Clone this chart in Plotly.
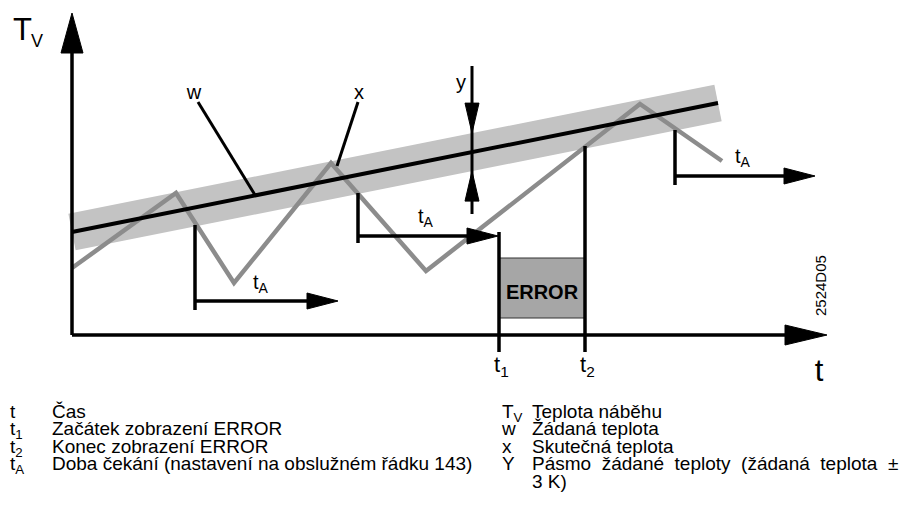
import plotly.graph_objects as go

# diagram units: t to the right, T upwards, origin where the two axes meet
t_axis_end = 755
T_axis_end = 322

# setpoint w and its band y (w +- 3 K)
w_t = [0, 646]
w_T = [103, 232]
band_half = 19

# actual temperature x
x_t = [0, 104, 162, 259, 354, 568, 650]
x_T = [67, 142, 52, 172, 64, 231, 174]

# waiting times t_A
wait_t = [123, 286, 603]
wait_top = [110, 142, 205]
wait_bottom = [25, 92, 150]
wait_arrow_T = [34, 99, 159]
wait_len = [143, 140, 140]

# ERROR display between t1 and t2
t1 = 427
t2 = 513
t1_top = 103
t2_top = 189
error_T = [17, 77]
tick_bottom = -17

# leader lines for the w / x labels, marker for the band y
w_lead_t = [126, 183]
w_lead_T = [233, 140]
x_lead_t = [286, 265]
x_lead_T = [233, 169]
y_t = 400
y_line_T = [121, 269]

NB = "\u00a0"
legend_left_sym = ["t", "t<sub>1</sub>", "t<sub>2</sub>", "t<sub>A</sub>"]
legend_left_txt = ["Čas", "Začátek zobrazení ERROR", "Konec zobrazení ERROR",
                   "Doba čekání (nastavení na obslužném řádku 143)"]
legend_right_sym = ["T<sub>V</sub>", "w", "x", "Y", ""]
legend_right_txt = ["Teplota náběhu", "Žádaná teplota", "Skutečná teplota",
                    "Pásmo žádané teploty (žádaná teplota ±".replace(" ", " " + NB),
                    "3 K)"]

FONT = "Liberation Sans, Arial, sans-serif"
BLACK = "#000000"
GREY = "#8c8c8c"
BAND = "#c3c3c3"

fig = go.Figure()


def line(xs, ys, color=BLACK, width=3.5):
    fig.add_trace(go.Scatter(x=xs, y=ys, mode="lines",
                             line=dict(color=color, width=width),
                             showlegend=False, hoverinfo="skip"))


def head(tip_x, tip_y, dx, dy, length, half):
    bx, by = tip_x - dx * length, tip_y - dy * length
    px, py = -dy * half, dx * half
    fig.add_trace(go.Scatter(x=[tip_x, bx + px, bx - px, tip_x],
                             y=[tip_y, by + py, by - py, tip_y],
                             mode="lines", fill="toself", fillcolor=BLACK,
                             line=dict(color=BLACK, width=1),
                             showlegend=False, hoverinfo="skip"))


def label(x, base, text, size, pos="middle center", bold=False):
    # base = baseline of the text in diagram units
    fig.add_trace(go.Scatter(x=[x], y=[base + 0.15 * size], mode="text",
                             text=[text], textposition=pos,
                             textfont=dict(family=FONT, size=size, color=BLACK,
                                           weight="bold" if bold else "normal"),
                             showlegend=False, hoverinfo="skip"))


# band around the setpoint
dx, dy = w_t[1] - w_t[0], w_T[1] - w_T[0]
L = (dx * dx + dy * dy) ** 0.5
d = band_half * dx / L
nx, ny = -dy / L * d, dx / L * d
band_x = [w_t[0] + nx, w_t[1] + nx, w_t[1] - nx, w_t[0] - nx, w_t[0] + nx]
band_y = [w_T[0] + ny, w_T[1] + ny, w_T[1] - ny, w_T[0] - ny, w_T[0] + ny]
fig.add_trace(go.Scatter(x=band_x, y=band_y, mode="lines", fill="toself",
                         fillcolor=BAND, line=dict(width=0),
                         showlegend=False, hoverinfo="skip"))

# ERROR box
fig.add_trace(go.Scatter(x=[t1, t2, t2, t1, t1],
                         y=[error_T[0], error_T[0], error_T[1], error_T[1], error_T[0]],
                         mode="lines", fill="toself", fillcolor="#a6a6a6",
                         line=dict(color="#333333", width=1),
                         showlegend=False, hoverinfo="skip"))

line(x_t, x_T, color=GREY, width=4.5)
line(w_t, w_T, width=4)

# axes
line([0, 0], [0, T_axis_end - 30], width=3.5)
head(0, T_axis_end, 0, 1, 40, 11)
line([0, t_axis_end - 30], [0, 0], width=3.5)
head(t_axis_end, 0, 1, 0, 42, 10)

# waiting time brackets
for ts, top, bot, ay, ln in zip(wait_t, wait_top, wait_bottom, wait_arrow_T, wait_len):
    line([ts, ts], [bot, top], width=3.5)
    line([ts, ts + ln - 20], [ay, ay], width=3.5)
    head(ts + ln, ay, 1, 0, 31, 8)

# t1 / t2 marks
line([t1, t1], [tick_bottom, t1_top], width=3.5)
line([t2, t2], [tick_bottom, t2_top], width=3.5)

# leaders
line(w_lead_t, w_lead_T, width=3)
line(x_lead_t, x_lead_T, width=3)

# band marker y
w_at_y = w_T[0] + (w_T[1] - w_T[0]) * (y_t - w_t[0]) / (w_t[1] - w_t[0])
line([y_t, y_t], y_line_T, width=3)
head(y_t, w_at_y + band_half, 0, -1, 30, 7)
head(y_t, w_at_y - band_half, 0, 1, 30, 7)

# labels in the diagram
label(-59, 298, "T", 31, "middle right")
label(-41, 290, "V", 18, "middle right")
label(747, -43, "t", 31)
label(122, 238, "w", 20)
label(287, 238, "x", 20)
label(389, 248, "y", 20)
for lt, lb in zip([181, 346, 663], [48, 114, 174]):
    label(lt, lb, "t<sub>A</sub>", 20, "middle right")
label(422, -35, "t<sub>1</sub>", 22, "middle right")
label(508, -35, "t<sub>2</sub>", 22, "middle right")
label((t1 + t2) / 2, 38, "ERROR", 20, bold=True)

fig.add_annotation(x=748, y=49, text="2524D05", textangle=-90, showarrow=False,
                   font=dict(family=FONT, size=15, color=BLACK),
                   xanchor="center", yanchor="middle")

# key below the diagram
row0 = -81
step = 17.5
for i, (s, txt) in enumerate(zip(legend_left_sym, legend_left_txt)):
    label(-62, row0 - i * step, s, 19, "middle right")
    label(-20, row0 - i * step, txt, 19, "middle right")
for i, (s, txt) in enumerate(zip(legend_right_sym, legend_right_txt)):
    if s:
        label(430, row0 - i * step, s, 19, "middle right")
    label(460, row0 - i * step, txt, 19, "middle right")

# the page puts the figure 8 px in from the top-left corner
fig.update_layout(
    width=917, height=517,
    margin=dict(l=0, r=0, t=0, b=0),
    paper_bgcolor="white", plot_bgcolor="white",
    xaxis=dict(range=[-64, 853], visible=False),
    yaxis=dict(range=[-190, 327], visible=False),
    hovermode=False,
)

fig.write_html("out.html")
